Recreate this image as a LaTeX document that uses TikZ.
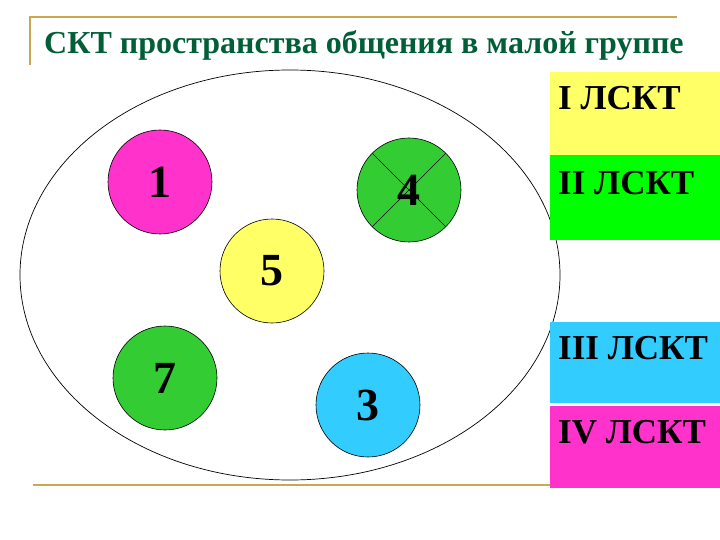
\documentclass[tikz,border=0pt]{standalone}
\usepackage{fontspec}
\setmainfont{Liberation Serif}
\usetikzlibrary{shapes.geometric}
\definecolor{titlegreen}{RGB}{0,95,55}
\definecolor{framegold}{RGB}{200,168,80}
\definecolor{cyellow}{RGB}{255,255,102}
\definecolor{cgreen}{RGB}{51,204,51}
\definecolor{cmag}{RGB}{255,51,204}
\definecolor{ccyan}{RGB}{51,204,255}
\definecolor{bgreen}{RGB}{0,255,0}
\begin{document}
\begin{tikzpicture}[x=1pt,y=-1pt,
  person/.style={circle, draw=black, line width=0.6pt, minimum size=104pt, inner sep=0pt,
    font=\fontsize{46}{46}\selectfont\bfseries},
  levelbox/.style={rectangle, draw=none, minimum width=170pt, minimum height=83pt,
    inner sep=0pt, anchor=north west},
  leveltext/.style={anchor=base west, inner sep=0pt, font=\fontsize{35}{35}\selectfont\bfseries},
  frameline/.style={draw=framegold, line width=2.2pt}]
\useasboundingbox (0,0) rectangle (720,540);
% frame lines
\coordinate (fbl) at (30,65);
\coordinate (ftl) at (30,17);
\coordinate (ftr) at (677,17);
\coordinate (bl) at (33,485);
\coordinate (br) at (550,485);
\draw[frameline] (fbl) -- (ftl) -- (ftr);
\draw[frameline] (bl) -- (br);
% title
\node[anchor=base west, inner sep=0pt, text=titlegreen,
  font=\fontsize{32}{32}\selectfont\bfseries] (title) at (44,54)
  {СКТ пространства общения в малой группе};
% group ellipse
\node[ellipse, draw=black, line width=0.7pt, minimum width=540pt, minimum height=410pt,
  inner sep=0pt] (grp) at (290,275) {};
% persons
\node[person, fill=cmag] (c1) at (160,182) {1};
\node[person, fill=cgreen] (c4) at (409,190) {4};
\draw[line width=0.6pt] (c4.135) -- (c4.-45);
\draw[line width=0.6pt] (c4.45) -- (c4.225);
\node[person, fill=cyellow] (c5) at (272,271) {5};
\node[person, fill=cgreen] (c7) at (165,378) {7};
\node[person, fill=ccyan] (c3) at (368,405) {3};
% level boxes
\node[levelbox, fill=cyellow] (b1) at (550,72) {};
\node[levelbox, fill=bgreen, minimum height=85pt] (b2) at (550,155) {};
\node[levelbox, fill=ccyan, minimum height=81pt] (b3) at (550,322) {};
\node[levelbox, fill=cmag, minimum height=82pt] (b4) at (550,406) {};
\node[leveltext] (t1) at (558,110) {I ЛСКТ};
\node[leveltext] (t2) at (558,195) {II ЛСКТ};
\node[leveltext] (t3) at (558,359) {III ЛСКТ};
\node[leveltext] (t4) at (558,443) {IV ЛСКТ};
\end{tikzpicture}
\end{document}
